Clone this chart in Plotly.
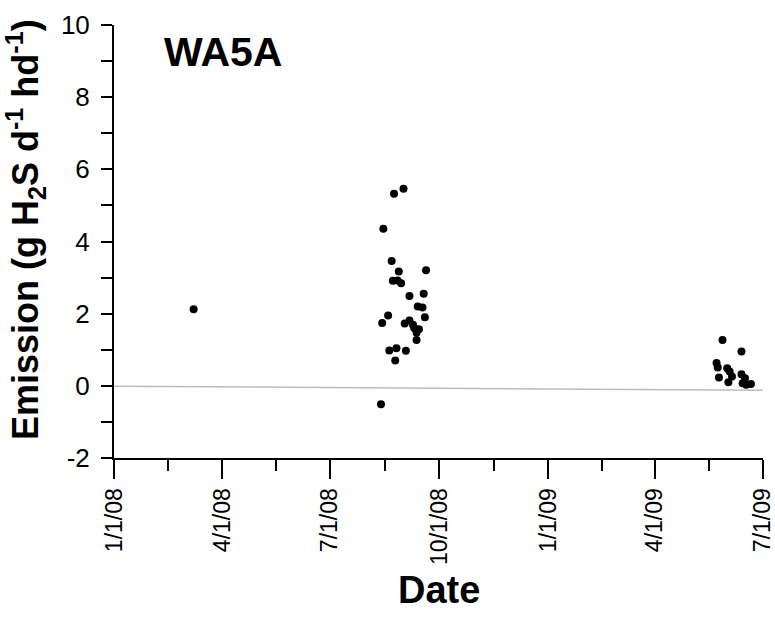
import plotly.graph_objects as go
import pandas as pd

# ---- data ----
dates = [
    "2008-03-08",
    "2008-08-24", "2008-09-01", "2008-08-15", "2008-08-22", "2008-08-28",
    "2008-09-20", "2008-08-23", "2008-08-27", "2008-08-30", "2008-09-06",
    "2008-09-18", "2008-09-13", "2008-09-17", "2008-08-19", "2008-08-14",
    "2008-09-19", "2008-09-02", "2008-09-06", "2008-09-09", "2008-09-10",
    "2008-09-14", "2008-09-12", "2008-09-12", "2008-08-20", "2008-08-26",
    "2008-09-03", "2008-08-25", "2008-08-13",
    "2009-05-28", "2009-06-13", "2009-05-23", "2009-05-24", "2009-05-25",
    "2009-06-01", "2009-06-03", "2009-06-05", "2009-06-02", "2009-06-13",
    "2009-06-16", "2009-06-14", "2009-06-17", "2009-06-21",
]
emission = [
    2.12,
    5.32, 5.46, 4.35, 3.46, 3.17,
    3.20, 2.91, 2.92, 2.84, 2.49,
    2.55, 2.20, 2.17, 1.95, 1.74,
    1.90, 1.73, 1.81, 1.69, 1.60,
    1.57, 1.47, 1.27, 0.98, 1.04,
    0.97, 0.70, -0.51,
    1.27, 0.95, 0.63, 0.51, 0.23,
    0.49, 0.40, 0.26, 0.10, 0.32,
    0.21, 0.07, 0.03, 0.05,
]
ref_line_x = ["2008-01-01", "2009-07-01"]
ref_line_y = [-0.01, -0.125]

tick_dates = ["2008-01-01", "2008-04-01", "2008-07-01", "2008-10-01",
              "2009-01-01", "2009-04-01", "2009-07-01"]
tick_labels = ["1/1/08", "4/1/08", "7/1/08", "10/1/08", "1/1/09", "4/1/09", "7/1/09"]

y_tick_vals = [-2, 0, 2, 4, 6, 8, 10]
y_tick_labels = ["-2", "0", "2", "4", "6", "8", "10"]
y_range = [-2, 10]
title_text = "WA5A"
x_title = "Date"
y_title = "Emission (g H<sub>2</sub>S d<sup>-1</sup> hd<sup>-1</sup>)"

# minor ticks midway between major ticks
td = pd.to_datetime(tick_dates)
minor_vals = [(td[i] + (td[i + 1] - td[i]) / 2).strftime("%Y-%m-%d %H:%M")
              for i in range(len(td) - 1)]
x_range = [(td[0] - pd.Timedelta(hours=4)).strftime("%Y-%m-%d %H:%M"),
           (td[-1] + pd.Timedelta(hours=4)).strftime("%Y-%m-%d %H:%M")]

FONT = "Liberation Sans, Arial, sans-serif"

fig = go.Figure()
fig.add_trace(go.Scatter(
    x=ref_line_x, y=ref_line_y, mode="lines",
    line=dict(color="#bdbdbd", width=1.5), hoverinfo="skip", showlegend=False))
fig.add_trace(go.Scatter(
    x=dates, y=emission, mode="markers",
    marker=dict(color="black", size=8), showlegend=False))

fig.update_layout(
    width=775, height=624,
    margin=dict(l=114, r=12, t=25, b=166),
    paper_bgcolor="white", plot_bgcolor="white",
    font=dict(family=FONT, color="black"),
    showlegend=False,
)
fig.update_xaxes(
    type="date", automargin=False,
    range=x_range,
    tickmode="array", tickvals=tick_dates, ticktext=tick_labels,
    tickangle=-90, tickfont=dict(size=23, family=FONT, color="black"),
    ticklabeloverflow="allow",
    ticks="outside", ticklen=19, tickwidth=2, tickcolor="black",
    minor=dict(tickmode="array", tickvals=minor_vals, ticks="outside",
               ticklen=11, tickwidth=2, tickcolor="black", showgrid=False),
    showline=True, linecolor="black", linewidth=2,
    showgrid=False, zeroline=False,
)
fig.update_yaxes(
    automargin=False,
    range=y_range, tickmode="array", tickvals=y_tick_vals, ticktext=y_tick_labels,
    tickfont=dict(size=26, family=FONT, color="black"),
    ticks="outside", ticklen=11, tickwidth=2, tickcolor="black",
    ticklabelstandoff=6,
    minor=dict(dtick=1, ticks="outside", ticklen=11, tickwidth=2,
               tickcolor="black", showgrid=False),
    showline=True, linecolor="black", linewidth=2,
    showgrid=False, zeroline=False,
)

fig.add_annotation(text="<b>" + title_text + "</b>", xref="paper", yref="paper",
                   x=0.1685, y=0.9376, xanchor="center", yanchor="middle",
                   showarrow=False, font=dict(size=41, family=FONT, color="black"))
fig.add_annotation(text="<b>" + x_title + "</b>", xref="paper", yref="paper",
                   x=0.5, y=-0.305, xanchor="center", yanchor="middle",
                   showarrow=False, font=dict(size=38, family=FONT, color="black"))
fig.add_annotation(text="<b>" + y_title + "</b>", xref="paper", yref="paper",
                   x=-0.136, y=0.528, xanchor="center", yanchor="middle",
                   textangle=-90, showarrow=False,
                   font=dict(size=36, family=FONT, color="black"))

fig.write_html("out.html")
